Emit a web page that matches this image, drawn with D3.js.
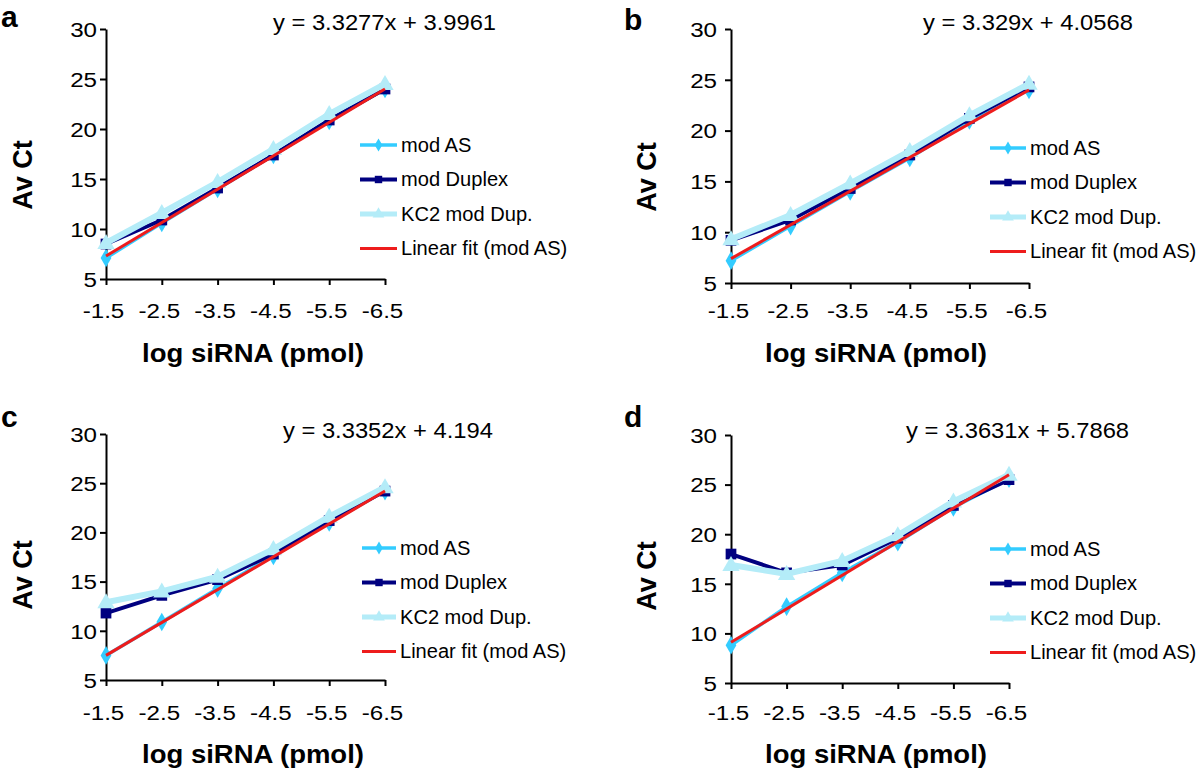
<!DOCTYPE html>
<html>
<head>
<meta charset="utf-8">
<script src="https://cdn.jsdelivr.net/npm/d3@7"></script>
<style>
  body { margin: 0; background: #fff; }
  svg { display: block; font-family: "Liberation Sans", Arial, sans-serif; }
  .axis path, .axis line { stroke: #000; stroke-width: 2px; }
  .axis text { fill: #000; }
</style>
</head>
<body>
<div class="chart"></div>
<script>
// categories on the x axis (log siRNA, pmol)
const categories = ["-1.5", "-2.5", "-3.5", "-4.5", "-5.5", "-6.5"];
const yTicks = [5, 10, 15, 20, 25, 30];
const seriesNames = ["mod AS", "mod Duplex", "KC2 mod Dup.", "Linear fit (mod AS)"];
const panelLetters = ["a", "b", "c", "d"];
const equations = [
    "y = 3.3277x + 3.9961",
    "y = 3.329x + 4.0568",
    "y = 3.3352x + 4.194",
    "y = 3.3631x + 5.7868"
];

// one row per panel (a, b, c, d)
const modAS = [
    [7.1, 10.6, 14.0, 17.4, 20.8, 24.0],
    [7.2, 10.6, 14.0, 17.3, 21.0, 24.0],
    [7.5, 10.9, 14.3, 17.6, 21.0, 24.2],
    [8.8, 12.7, 16.1, 19.2, 22.7, 25.6]
];
const modDuplex = [
    [8.5, 10.9, 14.1, 17.4, 20.9, 24.0],
    [9.2, 11.2, 14.3, 17.6, 21.2, 24.3],
    [11.8, 13.6, 15.2, 17.8, 21.2, 24.2],
    [18.0, 16.1, 16.9, 19.6, 22.9, 25.5]
];
const kc2Dup = [
    [8.6, 11.6, 14.7, 18.0, 21.5, 24.5],
    [9.3, 11.7, 14.8, 18.0, 21.5, 24.6],
    [12.9, 14.0, 15.5, 18.3, 21.6, 24.6],
    [16.9, 16.0, 17.3, 19.9, 23.3, 26.0]
];
// linear fit end points (at -1.5 and -6.5)
const fitEnds = [
    [7.3, 24.0],
    [7.4, 24.0],
    [7.5, 24.2],
    [9.1, 26.0]
];

const w = 1200;
const h = 777;

// layout of the four panels
const panels = [
    {x0: 106, x1: 385,  yTop: 29,  yBot: 279, tickY: 318, tickR: 97,  letter: [1, 27],    eq: [273, 30],  ttlY: [23, 175],  ttlX: [253, 362], leg: [360, 401, 145]},
    {x0: 731, x1: 1029, yTop: 29,  yBot: 283, tickY: 318, tickR: 717, letter: [624, 30],  eq: [923, 30],  ttlY: [647, 177], ttlX: [876, 362], leg: [990, 1030, 148]},
    {x0: 106, x1: 385,  yTop: 434, yBot: 680, tickY: 720, tickR: 97,  letter: [1, 427],   eq: [283, 438], ttlY: [23, 575],  ttlX: [253, 763], leg: [362, 400, 548]},
    {x0: 731, x1: 1009, yTop: 435, yBot: 683, tickY: 720, tickR: 717, letter: [624, 427], eq: [906, 438], ttlY: [647, 576], ttlX: [876, 763], leg: [990, 1030, 549]}
];

const colors = {as: "#33ccff", dup: "#000080", kc2: "#b4ecf8", fit: "#ee1c1c"};

const svg = d3.select('.chart').append('svg')
    .attr('width', w)
    .attr('height', h);

// text squeezed/stretched sideways like the source image
function stext(g, x, y, str, size, sx, anchor, weight) {
    return g.append('text')
        .attr('transform', 'translate(' + x + ',' + y + ') scale(' + sx + ',1)')
        .attr('text-anchor', anchor)
        .style('font-size', size + 'px')
        .style('font-weight', weight || 'normal')
        .text(str);
}

panels.forEach(function(p, i) {
    const g = svg.append('g');

    const x = d3.scalePoint().domain(categories).range([p.x0, p.x1]).padding(0);
    const y = d3.scaleLinear().domain([5, 30]).range([p.yBot, p.yTop]);

    const tickSx = 1.15;
    const tickFs = '21px';

    g.append('g')
        .attr('class', 'axis')
        .attr('transform', 'translate(0,' + p.yBot + ')')
        .call(d3.axisBottom(x).tickSizeInner(6).tickSizeOuter(0))
        .call(function(a) {
            a.selectAll('.tick text')
                .attr('y', null).attr('dy', null)
                .attr('transform', 'translate(-3,' + (p.tickY - p.yBot) + ') scale(' + tickSx + ',1)')
                .style('font-size', tickFs);
        });

    g.append('g')
        .attr('class', 'axis')
        .attr('transform', 'translate(' + p.x0 + ',0)')
        .call(d3.axisLeft(y).tickValues(yTicks).tickSizeInner(6).tickSizeOuter(0))
        .call(function(a) {
            a.selectAll('.tick text')
                .attr('x', null)
                .attr('dy', '0.35em')
                .attr('transform', 'translate(' + (p.tickR - p.x0) + ',0) scale(' + tickSx + ',1)')
                .style('font-size', tickFs);
        });

    const line = d3.line()
        .x(function(d, j) { return x(categories[j]); })
        .y(function(d) { return y(d); });

    // mod AS
    g.append('path').datum(modAS[i])
        .attr('d', line).attr('fill', 'none')
        .attr('stroke', colors.as).attr('stroke-width', 3.5);
    g.selectAll('.m-as').data(modAS[i]).enter().append('path')
        .attr('class', 'm-as')
        .attr('transform', function(d, j) { return 'translate(' + x(categories[j]) + ',' + y(d) + ')'; })
        .attr('d', d3.symbol(d3.symbolDiamond, 100))
        .attr('fill', colors.as);

    // mod Duplex
    g.append('path').datum(modDuplex[i])
        .attr('d', line).attr('fill', 'none')
        .attr('stroke', colors.dup).attr('stroke-width', 4);
    g.selectAll('.m-dup').data(modDuplex[i]).enter().append('path')
        .attr('class', 'm-dup')
        .attr('transform', function(d, j) { return 'translate(' + x(categories[j]) + ',' + y(d) + ')'; })
        .attr('d', d3.symbol(d3.symbolSquare, 115))
        .attr('fill', colors.dup);

    // KC2 mod Dup.
    g.append('path').datum(kc2Dup[i])
        .attr('d', line).attr('fill', 'none')
        .attr('stroke', colors.kc2).attr('stroke-width', 6);
    g.selectAll('.m-kc2').data(kc2Dup[i]).enter().append('path')
        .attr('class', 'm-kc2')
        .attr('transform', function(d, j) { return 'translate(' + x(categories[j]) + ',' + (y(d) + 1) + ')'; })
        .attr('d', d3.symbol(d3.symbolTriangle, 130))
        .attr('fill', colors.kc2);

    // linear fit
    g.append('line')
        .attr('x1', x(categories[0])).attr('y1', y(fitEnds[i][0]))
        .attr('x2', x(categories[categories.length - 1])).attr('y2', y(fitEnds[i][1]))
        .attr('stroke', colors.fit).attr('stroke-width', 3);

    // texts
    stext(g, p.letter[0], p.letter[1], panelLetters[i], 30, 1, 'start', 'bold');
    stext(g, p.eq[0], p.eq[1], equations[i], 22, 1.08, 'start');
    stext(g, p.ttlX[0], p.ttlX[1], 'log siRNA (pmol)', 25, 1.1, 'middle', 'bold');
    g.append('text')
        .attr('transform', 'translate(' + p.ttlY[0] + ',' + p.ttlY[1] + ') rotate(-90)')
        .attr('text-anchor', 'middle')
        .attr('dy', '0.35em')
        .style('font-size', '27px')
        .style('font-weight', 'bold')
        .text('Av Ct');

    // legend
    const lg = g.append('g');
    const rowGap = 34.5;
    const lx0 = p.leg[0], lx1 = p.leg[1] - 4, mid = (lx0 + lx1) / 2;
    const legStyle = [
        {c: colors.as, sw: 3.5, sym: d3.symbolDiamond, s: 50},
        {c: colors.dup, sw: 4, sym: d3.symbolSquare, s: 55},
        {c: colors.kc2, sw: 5, sym: d3.symbolTriangle, s: 60},
        {c: colors.fit, sw: 3, sym: null}
    ];
    seriesNames.forEach(function(name, k) {
        const yy = p.leg[2] + k * rowGap;
        lg.append('line')
            .attr('x1', lx0).attr('x2', lx1).attr('y1', yy).attr('y2', yy)
            .attr('stroke', legStyle[k].c).attr('stroke-width', legStyle[k].sw);
        if (legStyle[k].sym) {
            lg.append('path')
                .attr('transform', 'translate(' + mid + ',' + yy + ')')
                .attr('d', d3.symbol(legStyle[k].sym, legStyle[k].s))
                .attr('fill', legStyle[k].c);
        }
        stext(lg, p.leg[1], yy, name, 19.5, 1.03, 'start')
            .attr('dy', '0.35em');
    });
});
</script>
</body>
</html>
